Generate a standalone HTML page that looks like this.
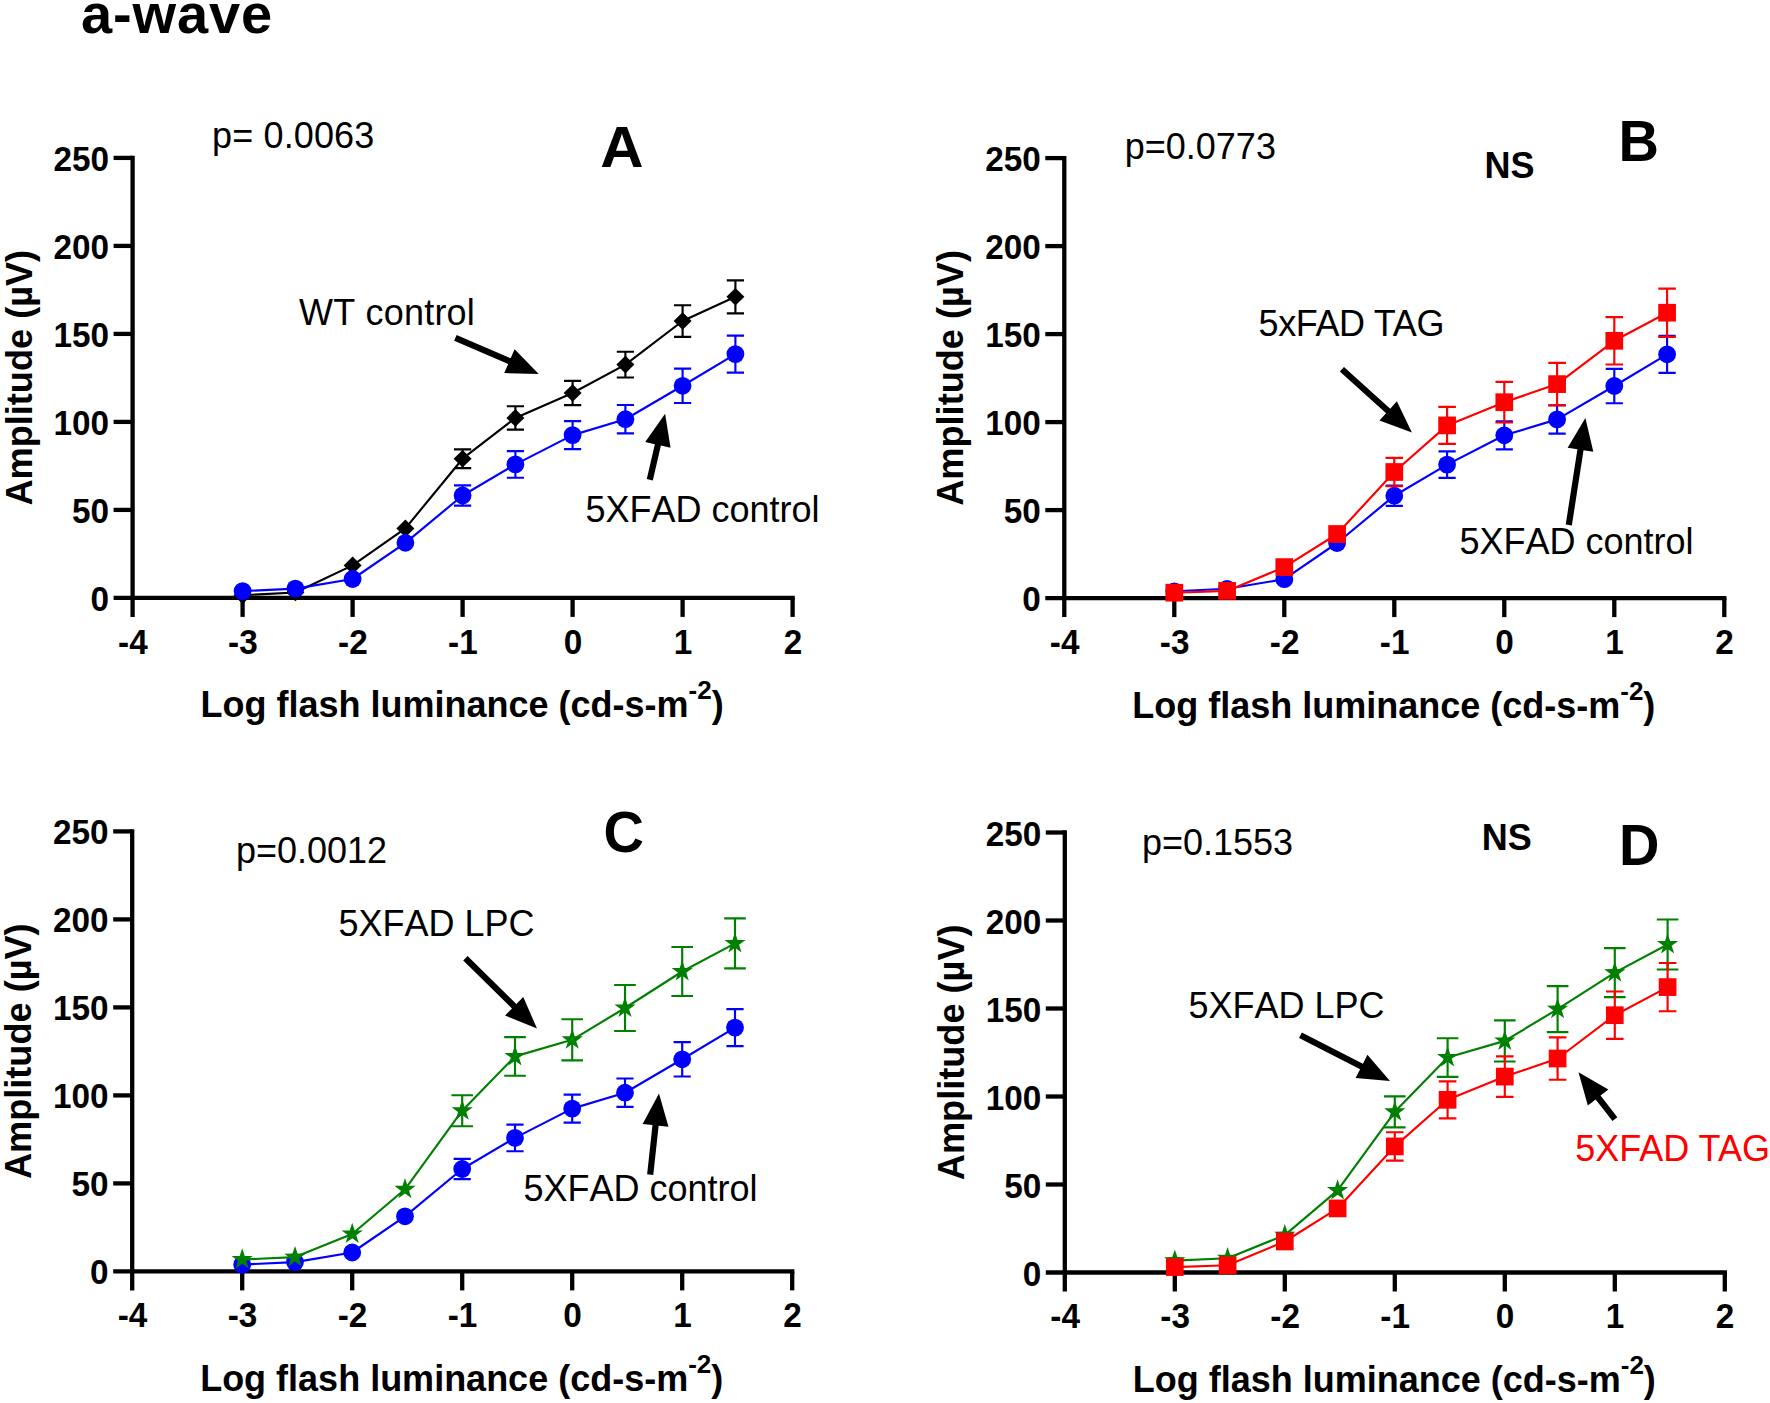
<!DOCTYPE html>
<html lang="en"><head><meta charset="utf-8"><title>a-wave</title>
<style>
html,body{margin:0;padding:0;background:#fff;}
svg{display:block;}
text{font-family:"Liberation Sans",Arial,Helvetica,sans-serif;fill:#000;font-kerning:none;}
.tk{font-size:33.3px;font-weight:bold;}
.al{font-size:36px;font-weight:bold;}
.rg{font-size:36px;}
.kn{font-kerning:normal;}
.ns{font-size:36px;font-weight:bold;}
.pl{font-size:56px;font-weight:bold;}
</style></head><body>
<svg width="1770" height="1403" viewBox="0 0 1770 1403">
<rect width="1770" height="1403" fill="#fff"/>
<text x="81" y="33.2" style="font-size:56px;font-weight:bold;letter-spacing:0.85px">a-wave</text>
<path d="M132.6 155.75V616.90" stroke="#000" stroke-width="4.3" fill="none"/>
<path d="M113.6 597.9H794.75" stroke="#000" stroke-width="4.3" fill="none"/>
<path d="M113.6 509.9H132.6" stroke="#000" stroke-width="4.3"/>
<path d="M113.6 421.9H132.6" stroke="#000" stroke-width="4.3"/>
<path d="M113.6 333.9H132.6" stroke="#000" stroke-width="4.3"/>
<path d="M113.6 245.89999999999998H132.6" stroke="#000" stroke-width="4.3"/>
<path d="M113.6 157.89999999999998H132.6" stroke="#000" stroke-width="4.3"/>
<path d="M242.6 597.9V616.9" stroke="#000" stroke-width="4.3"/>
<path d="M352.6 597.9V616.9" stroke="#000" stroke-width="4.3"/>
<path d="M462.6 597.9V616.9" stroke="#000" stroke-width="4.3"/>
<path d="M572.6 597.9V616.9" stroke="#000" stroke-width="4.3"/>
<path d="M682.6 597.9V616.9" stroke="#000" stroke-width="4.3"/>
<path d="M792.6 597.9V616.9" stroke="#000" stroke-width="4.3"/>
<text class="tk" transform="translate(109.0,610.9) scale(1,1.04)" text-anchor="end">0</text>
<text class="tk" transform="translate(109.0,522.9) scale(1,1.04)" text-anchor="end">50</text>
<text class="tk" transform="translate(109.0,434.9) scale(1,1.04)" text-anchor="end">100</text>
<text class="tk" transform="translate(109.0,346.9) scale(1,1.04)" text-anchor="end">150</text>
<text class="tk" transform="translate(109.0,258.9) scale(1,1.04)" text-anchor="end">200</text>
<text class="tk" transform="translate(109.0,170.9) scale(1,1.04)" text-anchor="end">250</text>
<text class="tk" transform="translate(132.9,653.6) scale(1,1.04)" text-anchor="middle">-4</text>
<text class="tk" transform="translate(242.9,653.6) scale(1,1.04)" text-anchor="middle">-3</text>
<text class="tk" transform="translate(352.9,653.6) scale(1,1.04)" text-anchor="middle">-2</text>
<text class="tk" transform="translate(462.9,653.6) scale(1,1.04)" text-anchor="middle">-1</text>
<text class="tk" transform="translate(572.9,653.6) scale(1,1.04)" text-anchor="middle">0</text>
<text class="tk" transform="translate(682.9,653.6) scale(1,1.04)" text-anchor="middle">1</text>
<text class="tk" transform="translate(792.9,653.6) scale(1,1.04)" text-anchor="middle">2</text>
<text class="al" transform="translate(462.1,717.3) scale(1,1.02)" text-anchor="middle">Log flash luminance (cd-s-m<tspan style="font-size:26px;font-weight:bold" dy="-17.5">-2</tspan><tspan dy="17.5">)</tspan></text>
<text class="al" transform="translate(31.5,377.7) rotate(-90) scale(1.004,1.03)" text-anchor="middle">Amplitude (µV)</text>
<path d="M462.60 449.30V468.10M454.00 449.30H471.20M454.00 468.10H471.20" stroke="#000" stroke-width="2.15" fill="none"/>
<path d="M515.40 406.20V429.60M506.80 406.20H524.00M506.80 429.60H524.00" stroke="#000" stroke-width="2.15" fill="none"/>
<path d="M572.60 380.90V405.10M564.00 380.90H581.20M564.00 405.10H581.20" stroke="#000" stroke-width="2.15" fill="none"/>
<path d="M625.40 351.70V377.50M616.80 351.70H634.00M616.80 377.50H634.00" stroke="#000" stroke-width="2.15" fill="none"/>
<path d="M682.60 305.20V336.80M674.00 305.20H691.20M674.00 336.80H691.20" stroke="#000" stroke-width="2.15" fill="none"/>
<path d="M735.40 280.30V313.30M726.80 280.30H744.00M726.80 313.30H744.00" stroke="#000" stroke-width="2.15" fill="none"/>
<polyline points="242.60,595.20 295.40,592.50 352.60,565.40 405.40,528.40 462.60,458.70 515.40,417.90 572.60,393.00 625.40,364.60 682.60,321.00 735.40,296.80" fill="none" stroke="#000" stroke-width="2.15" stroke-linejoin="round"/>
<polygon points="242.60,586.40 251.60,595.20 242.60,604.00 233.60,595.20" fill="#000"/>
<polygon points="295.40,583.70 304.40,592.50 295.40,601.30 286.40,592.50" fill="#000"/>
<polygon points="352.60,556.60 361.60,565.40 352.60,574.20 343.60,565.40" fill="#000"/>
<polygon points="405.40,519.60 414.40,528.40 405.40,537.20 396.40,528.40" fill="#000"/>
<polygon points="462.60,449.90 471.60,458.70 462.60,467.50 453.60,458.70" fill="#000"/>
<polygon points="515.40,409.10 524.40,417.90 515.40,426.70 506.40,417.90" fill="#000"/>
<polygon points="572.60,384.20 581.60,393.00 572.60,401.80 563.60,393.00" fill="#000"/>
<polygon points="625.40,355.80 634.40,364.60 625.40,373.40 616.40,364.60" fill="#000"/>
<polygon points="682.60,312.20 691.60,321.00 682.60,329.80 673.60,321.00" fill="#000"/>
<polygon points="735.40,288.00 744.40,296.80 735.40,305.60 726.40,296.80" fill="#000"/>
<path d="M462.60 485.40V505.60M454.00 485.40H471.20M454.00 505.60H471.20" stroke="#0000ff" stroke-width="2.15" fill="none"/>
<path d="M515.40 451.10V477.70M506.80 451.10H524.00M506.80 477.70H524.00" stroke="#0000ff" stroke-width="2.15" fill="none"/>
<path d="M572.60 421.10V449.10M564.00 421.10H581.20M564.00 449.10H581.20" stroke="#0000ff" stroke-width="2.15" fill="none"/>
<path d="M625.40 405.00V433.40M616.80 405.00H634.00M616.80 433.40H634.00" stroke="#0000ff" stroke-width="2.15" fill="none"/>
<path d="M682.60 368.60V403.00M674.00 368.60H691.20M674.00 403.00H691.20" stroke="#0000ff" stroke-width="2.15" fill="none"/>
<path d="M735.40 335.60V372.60M726.80 335.60H744.00M726.80 372.60H744.00" stroke="#0000ff" stroke-width="2.15" fill="none"/>
<polyline points="242.60,591.10 295.40,588.60 352.60,579.00 405.40,542.80 462.60,495.50 515.40,464.40 572.60,435.10 625.40,419.20 682.60,385.80 735.40,354.10" fill="none" stroke="#0000ff" stroke-width="2.15" stroke-linejoin="round"/>
<circle cx="242.60" cy="591.10" r="8.9" fill="#0000ff"/>
<circle cx="295.40" cy="588.60" r="8.9" fill="#0000ff"/>
<circle cx="352.60" cy="579.00" r="8.9" fill="#0000ff"/>
<circle cx="405.40" cy="542.80" r="8.9" fill="#0000ff"/>
<circle cx="462.60" cy="495.50" r="8.9" fill="#0000ff"/>
<circle cx="515.40" cy="464.40" r="8.9" fill="#0000ff"/>
<circle cx="572.60" cy="435.10" r="8.9" fill="#0000ff"/>
<circle cx="625.40" cy="419.20" r="8.9" fill="#0000ff"/>
<circle cx="682.60" cy="385.80" r="8.9" fill="#0000ff"/>
<circle cx="735.40" cy="354.10" r="8.9" fill="#0000ff"/>
<text class="rg" transform="translate(212,148.3) scale(1,1.03)" letter-spacing="0.15">p= 0.0063</text>
<text class="pl" transform="translate(622,167.1) scale(1.0715,1.04)" text-anchor="middle">A</text>
<text class="rg" x="299" y="325.1" letter-spacing="0.2">WT control</text>
<text class="rg" x="585.5" y="521.9">5XFAD control</text>
<polygon points="454.17,340.64 508.20,364.03 504.27,373.12 538.80,373.90 514.60,349.26 510.66,358.34 456.63,334.96" fill="#000"/>
<polygon points="652.82,480.50 660.90,445.57 670.55,447.81 665.10,413.70 645.22,441.94 654.86,444.18 646.78,479.10" fill="#000"/>
<path d="M1064.3 155.95V617.10" stroke="#000" stroke-width="4.3" fill="none"/>
<path d="M1045.3 598.1H1726.45" stroke="#000" stroke-width="4.3" fill="none"/>
<path d="M1045.3 510.1H1064.3" stroke="#000" stroke-width="4.3"/>
<path d="M1045.3 422.1H1064.3" stroke="#000" stroke-width="4.3"/>
<path d="M1045.3 334.1H1064.3" stroke="#000" stroke-width="4.3"/>
<path d="M1045.3 246.10000000000002H1064.3" stroke="#000" stroke-width="4.3"/>
<path d="M1045.3 158.10000000000002H1064.3" stroke="#000" stroke-width="4.3"/>
<path d="M1174.3 598.1V617.1" stroke="#000" stroke-width="4.3"/>
<path d="M1284.3 598.1V617.1" stroke="#000" stroke-width="4.3"/>
<path d="M1394.3 598.1V617.1" stroke="#000" stroke-width="4.3"/>
<path d="M1504.3 598.1V617.1" stroke="#000" stroke-width="4.3"/>
<path d="M1614.3 598.1V617.1" stroke="#000" stroke-width="4.3"/>
<path d="M1724.3 598.1V617.1" stroke="#000" stroke-width="4.3"/>
<text class="tk" transform="translate(1040.7,611.1) scale(1,1.04)" text-anchor="end">0</text>
<text class="tk" transform="translate(1040.7,523.1) scale(1,1.04)" text-anchor="end">50</text>
<text class="tk" transform="translate(1040.7,435.1) scale(1,1.04)" text-anchor="end">100</text>
<text class="tk" transform="translate(1040.7,347.1) scale(1,1.04)" text-anchor="end">150</text>
<text class="tk" transform="translate(1040.7,259.1) scale(1,1.04)" text-anchor="end">200</text>
<text class="tk" transform="translate(1040.7,171.1) scale(1,1.04)" text-anchor="end">250</text>
<text class="tk" transform="translate(1064.6,653.8) scale(1,1.04)" text-anchor="middle">-4</text>
<text class="tk" transform="translate(1174.6,653.8) scale(1,1.04)" text-anchor="middle">-3</text>
<text class="tk" transform="translate(1284.6,653.8) scale(1,1.04)" text-anchor="middle">-2</text>
<text class="tk" transform="translate(1394.6,653.8) scale(1,1.04)" text-anchor="middle">-1</text>
<text class="tk" transform="translate(1504.6,653.8) scale(1,1.04)" text-anchor="middle">0</text>
<text class="tk" transform="translate(1614.6,653.8) scale(1,1.04)" text-anchor="middle">1</text>
<text class="tk" transform="translate(1724.6,653.8) scale(1,1.04)" text-anchor="middle">2</text>
<text class="al" transform="translate(1393.8,717.5) scale(1,1.02)" text-anchor="middle">Log flash luminance (cd-s-m<tspan style="font-size:26px;font-weight:bold" dy="-17.5">-2</tspan><tspan dy="17.5">)</tspan></text>
<text class="al" transform="translate(963.2,377.9) rotate(-90) scale(1.004,1.03)" text-anchor="middle">Amplitude (µV)</text>
<path d="M1394.30 485.60V505.80M1385.70 485.60H1402.90M1385.70 505.80H1402.90" stroke="#0000ff" stroke-width="2.15" fill="none"/>
<path d="M1447.10 451.30V477.90M1438.50 451.30H1455.70M1438.50 477.90H1455.70" stroke="#0000ff" stroke-width="2.15" fill="none"/>
<path d="M1504.30 421.30V449.30M1495.70 421.30H1512.90M1495.70 449.30H1512.90" stroke="#0000ff" stroke-width="2.15" fill="none"/>
<path d="M1557.10 405.20V433.60M1548.50 405.20H1565.70M1548.50 433.60H1565.70" stroke="#0000ff" stroke-width="2.15" fill="none"/>
<path d="M1614.30 368.80V403.20M1605.70 368.80H1622.90M1605.70 403.20H1622.90" stroke="#0000ff" stroke-width="2.15" fill="none"/>
<path d="M1667.10 335.80V372.80M1658.50 335.80H1675.70M1658.50 372.80H1675.70" stroke="#0000ff" stroke-width="2.15" fill="none"/>
<polyline points="1174.30,591.30 1227.10,588.80 1284.30,579.20 1337.10,543.00 1394.30,495.70 1447.10,464.60 1504.30,435.30 1557.10,419.40 1614.30,386.00 1667.10,354.30" fill="none" stroke="#0000ff" stroke-width="2.15" stroke-linejoin="round"/>
<circle cx="1174.30" cy="591.30" r="8.9" fill="#0000ff"/>
<circle cx="1227.10" cy="588.80" r="8.9" fill="#0000ff"/>
<circle cx="1284.30" cy="579.20" r="8.9" fill="#0000ff"/>
<circle cx="1337.10" cy="543.00" r="8.9" fill="#0000ff"/>
<circle cx="1394.30" cy="495.70" r="8.9" fill="#0000ff"/>
<circle cx="1447.10" cy="464.60" r="8.9" fill="#0000ff"/>
<circle cx="1504.30" cy="435.30" r="8.9" fill="#0000ff"/>
<circle cx="1557.10" cy="419.40" r="8.9" fill="#0000ff"/>
<circle cx="1614.30" cy="386.00" r="8.9" fill="#0000ff"/>
<circle cx="1667.10" cy="354.30" r="8.9" fill="#0000ff"/>
<path d="M1394.30 457.80V486.20M1385.50 457.80H1403.10M1385.50 486.20H1403.10" stroke="#ff0000" stroke-width="2.15" fill="none"/>
<path d="M1447.10 406.90V443.90M1438.30 406.90H1455.90M1438.30 443.90H1455.90" stroke="#ff0000" stroke-width="2.15" fill="none"/>
<path d="M1504.30 381.90V422.50M1495.50 381.90H1513.10M1495.50 422.50H1513.10" stroke="#ff0000" stroke-width="2.15" fill="none"/>
<path d="M1557.10 362.90V405.30M1548.30 362.90H1565.90M1548.30 405.30H1565.90" stroke="#ff0000" stroke-width="2.15" fill="none"/>
<path d="M1614.30 317.10V364.50M1605.50 317.10H1623.10M1605.50 364.50H1623.10" stroke="#ff0000" stroke-width="2.15" fill="none"/>
<path d="M1667.10 288.60V336.80M1658.30 288.60H1675.90M1658.30 336.80H1675.90" stroke="#ff0000" stroke-width="2.15" fill="none"/>
<polyline points="1174.30,592.70 1227.10,590.90 1284.30,567.10 1337.10,534.00 1394.30,472.00 1447.10,425.40 1504.30,402.20 1557.10,384.10 1614.30,340.80 1667.10,312.70" fill="none" stroke="#ff0000" stroke-width="2.15" stroke-linejoin="round"/>
<rect x="1165.45" y="583.85" width="17.7" height="17.7" fill="#ff0000"/>
<rect x="1218.25" y="582.05" width="17.7" height="17.7" fill="#ff0000"/>
<rect x="1275.45" y="558.25" width="17.7" height="17.7" fill="#ff0000"/>
<rect x="1328.25" y="525.15" width="17.7" height="17.7" fill="#ff0000"/>
<rect x="1385.45" y="463.15" width="17.7" height="17.7" fill="#ff0000"/>
<rect x="1438.25" y="416.55" width="17.7" height="17.7" fill="#ff0000"/>
<rect x="1495.45" y="393.35" width="17.7" height="17.7" fill="#ff0000"/>
<rect x="1548.25" y="375.25" width="17.7" height="17.7" fill="#ff0000"/>
<rect x="1605.45" y="331.95" width="17.7" height="17.7" fill="#ff0000"/>
<rect x="1658.25" y="303.85" width="17.7" height="17.7" fill="#ff0000"/>
<text class="rg" transform="translate(1124.8,159.3) scale(1,1.03)">p=0.0773</text>
<text class="ns" transform="translate(1484.5,178) scale(1,1.04)">NS</text>
<text class="pl" transform="translate(1618.5,160.8) scale(1,1.04)">B</text>
<text class="rg kn" transform="translate(1258.5,336.1) scale(1,1.04)" letter-spacing="-0.35">5xFAD TAG</text>
<text class="rg" x="1459.5" y="553.7">5XFAD control</text>
<polygon points="1339.82,371.50 1386.07,413.26 1379.44,420.60 1411.90,432.40 1396.86,401.31 1390.23,408.65 1343.98,366.90" fill="#000"/>
<polygon points="1571.86,525.38 1583.55,450.20 1593.33,451.72 1585.40,418.10 1567.64,447.72 1577.42,449.24 1565.74,524.42" fill="#000"/>
<path d="M132.2 829.25V1290.40" stroke="#000" stroke-width="4.3" fill="none"/>
<path d="M113.19999999999999 1271.4H794.35" stroke="#000" stroke-width="4.3" fill="none"/>
<path d="M113.19999999999999 1183.4H132.2" stroke="#000" stroke-width="4.3"/>
<path d="M113.19999999999999 1095.4H132.2" stroke="#000" stroke-width="4.3"/>
<path d="M113.19999999999999 1007.4000000000001H132.2" stroke="#000" stroke-width="4.3"/>
<path d="M113.19999999999999 919.4000000000001H132.2" stroke="#000" stroke-width="4.3"/>
<path d="M113.19999999999999 831.4000000000001H132.2" stroke="#000" stroke-width="4.3"/>
<path d="M242.2 1271.4V1290.4" stroke="#000" stroke-width="4.3"/>
<path d="M352.2 1271.4V1290.4" stroke="#000" stroke-width="4.3"/>
<path d="M462.2 1271.4V1290.4" stroke="#000" stroke-width="4.3"/>
<path d="M572.2 1271.4V1290.4" stroke="#000" stroke-width="4.3"/>
<path d="M682.2 1271.4V1290.4" stroke="#000" stroke-width="4.3"/>
<path d="M792.2 1271.4V1290.4" stroke="#000" stroke-width="4.3"/>
<text class="tk" transform="translate(108.6,1284.4) scale(1,1.04)" text-anchor="end">0</text>
<text class="tk" transform="translate(108.6,1196.4) scale(1,1.04)" text-anchor="end">50</text>
<text class="tk" transform="translate(108.6,1108.4) scale(1,1.04)" text-anchor="end">100</text>
<text class="tk" transform="translate(108.6,1020.4) scale(1,1.04)" text-anchor="end">150</text>
<text class="tk" transform="translate(108.6,932.4) scale(1,1.04)" text-anchor="end">200</text>
<text class="tk" transform="translate(108.6,844.4) scale(1,1.04)" text-anchor="end">250</text>
<text class="tk" transform="translate(132.5,1327.1) scale(1,1.04)" text-anchor="middle">-4</text>
<text class="tk" transform="translate(242.5,1327.1) scale(1,1.04)" text-anchor="middle">-3</text>
<text class="tk" transform="translate(352.5,1327.1) scale(1,1.04)" text-anchor="middle">-2</text>
<text class="tk" transform="translate(462.5,1327.1) scale(1,1.04)" text-anchor="middle">-1</text>
<text class="tk" transform="translate(572.5,1327.1) scale(1,1.04)" text-anchor="middle">0</text>
<text class="tk" transform="translate(682.5,1327.1) scale(1,1.04)" text-anchor="middle">1</text>
<text class="tk" transform="translate(792.5,1327.1) scale(1,1.04)" text-anchor="middle">2</text>
<text class="al" transform="translate(461.7,1390.8) scale(1,1.02)" text-anchor="middle">Log flash luminance (cd-s-m<tspan style="font-size:26px;font-weight:bold" dy="-17.5">-2</tspan><tspan dy="17.5">)</tspan></text>
<text class="al" transform="translate(31.1,1051.2) rotate(-90) scale(1.004,1.03)" text-anchor="middle">Amplitude (µV)</text>
<path d="M462.20 1158.90V1179.10M453.60 1158.90H470.80M453.60 1179.10H470.80" stroke="#0000ff" stroke-width="2.15" fill="none"/>
<path d="M515.00 1124.60V1151.20M506.40 1124.60H523.60M506.40 1151.20H523.60" stroke="#0000ff" stroke-width="2.15" fill="none"/>
<path d="M572.20 1094.60V1122.60M563.60 1094.60H580.80M563.60 1122.60H580.80" stroke="#0000ff" stroke-width="2.15" fill="none"/>
<path d="M625.00 1078.50V1106.90M616.40 1078.50H633.60M616.40 1106.90H633.60" stroke="#0000ff" stroke-width="2.15" fill="none"/>
<path d="M682.20 1042.10V1076.50M673.60 1042.10H690.80M673.60 1076.50H690.80" stroke="#0000ff" stroke-width="2.15" fill="none"/>
<path d="M735.00 1009.10V1046.10M726.40 1009.10H743.60M726.40 1046.10H743.60" stroke="#0000ff" stroke-width="2.15" fill="none"/>
<polyline points="242.20,1264.60 295.00,1262.10 352.20,1252.50 405.00,1216.30 462.20,1169.00 515.00,1137.90 572.20,1108.60 625.00,1092.70 682.20,1059.30 735.00,1027.60" fill="none" stroke="#0000ff" stroke-width="2.15" stroke-linejoin="round"/>
<circle cx="242.20" cy="1264.60" r="8.9" fill="#0000ff"/>
<circle cx="295.00" cy="1262.10" r="8.9" fill="#0000ff"/>
<circle cx="352.20" cy="1252.50" r="8.9" fill="#0000ff"/>
<circle cx="405.00" cy="1216.30" r="8.9" fill="#0000ff"/>
<circle cx="462.20" cy="1169.00" r="8.9" fill="#0000ff"/>
<circle cx="515.00" cy="1137.90" r="8.9" fill="#0000ff"/>
<circle cx="572.20" cy="1108.60" r="8.9" fill="#0000ff"/>
<circle cx="625.00" cy="1092.70" r="8.9" fill="#0000ff"/>
<circle cx="682.20" cy="1059.30" r="8.9" fill="#0000ff"/>
<circle cx="735.00" cy="1027.60" r="8.9" fill="#0000ff"/>
<path d="M462.20 1095.20V1126.20M451.40 1095.20H473.00M451.40 1126.20H473.00" stroke="#008000" stroke-width="2.15" fill="none"/>
<path d="M515.00 1037.10V1075.70M504.20 1037.10H525.80M504.20 1075.70H525.80" stroke="#008000" stroke-width="2.15" fill="none"/>
<path d="M572.20 1019.20V1060.40M561.40 1019.20H583.00M561.40 1060.40H583.00" stroke="#008000" stroke-width="2.15" fill="none"/>
<path d="M625.00 985.00V1031.00M614.20 985.00H635.80M614.20 1031.00H635.80" stroke="#008000" stroke-width="2.15" fill="none"/>
<path d="M682.20 947.00V996.00M671.40 947.00H693.00M671.40 996.00H693.00" stroke="#008000" stroke-width="2.15" fill="none"/>
<path d="M735.00 918.40V968.40M724.20 918.40H745.80M724.20 968.40H745.80" stroke="#008000" stroke-width="2.15" fill="none"/>
<polyline points="242.20,1259.50 295.00,1257.10 352.20,1234.00 405.00,1189.30 462.20,1110.70 515.00,1056.40 572.20,1039.80 625.00,1008.00 682.20,971.50 735.00,943.40" fill="none" stroke="#008000" stroke-width="2.15" stroke-linejoin="round"/>
<polygon points="242.20,1248.30 244.73,1256.02 252.85,1256.04 246.29,1260.83 248.78,1268.56 242.20,1263.80 235.62,1268.56 238.11,1260.83 231.55,1256.04 239.67,1256.02" fill="#008000"/>
<polygon points="295.00,1245.90 297.53,1253.62 305.65,1253.64 299.09,1258.43 301.58,1266.16 295.00,1261.40 288.42,1266.16 290.91,1258.43 284.35,1253.64 292.47,1253.62" fill="#008000"/>
<polygon points="352.20,1222.80 354.73,1230.52 362.85,1230.54 356.29,1235.33 358.78,1243.06 352.20,1238.30 345.62,1243.06 348.11,1235.33 341.55,1230.54 349.67,1230.52" fill="#008000"/>
<polygon points="405.00,1178.10 407.53,1185.82 415.65,1185.84 409.09,1190.63 411.58,1198.36 405.00,1193.60 398.42,1198.36 400.91,1190.63 394.35,1185.84 402.47,1185.82" fill="#008000"/>
<polygon points="462.20,1099.50 464.73,1107.22 472.85,1107.24 466.29,1112.03 468.78,1119.76 462.20,1115.00 455.62,1119.76 458.11,1112.03 451.55,1107.24 459.67,1107.22" fill="#008000"/>
<polygon points="515.00,1045.20 517.53,1052.92 525.65,1052.94 519.09,1057.73 521.58,1065.46 515.00,1060.70 508.42,1065.46 510.91,1057.73 504.35,1052.94 512.47,1052.92" fill="#008000"/>
<polygon points="572.20,1028.60 574.73,1036.32 582.85,1036.34 576.29,1041.13 578.78,1048.86 572.20,1044.10 565.62,1048.86 568.11,1041.13 561.55,1036.34 569.67,1036.32" fill="#008000"/>
<polygon points="625.00,996.80 627.53,1004.52 635.65,1004.54 629.09,1009.33 631.58,1017.06 625.00,1012.30 618.42,1017.06 620.91,1009.33 614.35,1004.54 622.47,1004.52" fill="#008000"/>
<polygon points="682.20,960.30 684.73,968.02 692.85,968.04 686.29,972.83 688.78,980.56 682.20,975.80 675.62,980.56 678.11,972.83 671.55,968.04 679.67,968.02" fill="#008000"/>
<polygon points="735.00,932.20 737.53,939.92 745.65,939.94 739.09,944.73 741.58,952.46 735.00,947.70 728.42,952.46 730.91,944.73 724.35,939.94 732.47,939.92" fill="#008000"/>
<text class="rg" transform="translate(236,863.3) scale(1,1.03)">p=0.0012</text>
<text class="pl" transform="translate(603.5,852.3) scale(1,1.04)">C</text>
<text class="rg" transform="translate(338.5,936.1) scale(1,1.04)">5XFAD LPC</text>
<text class="rg" x="523.5" y="1200.7">5XFAD control</text>
<polygon points="463.23,960.51 511.99,1008.39 505.06,1015.46 537.00,1028.60 523.27,996.90 516.34,1003.97 467.57,956.09" fill="#000"/>
<polygon points="653.28,1175.03 658.63,1125.75 668.47,1126.82 659.00,1093.60 642.62,1124.01 652.47,1125.08 647.12,1174.37" fill="#000"/>
<path d="M1064.8 830.35V1291.50" stroke="#000" stroke-width="4.3" fill="none"/>
<path d="M1045.8 1272.5H1726.95" stroke="#000" stroke-width="4.3" fill="none"/>
<path d="M1045.8 1184.5H1064.8" stroke="#000" stroke-width="4.3"/>
<path d="M1045.8 1096.5H1064.8" stroke="#000" stroke-width="4.3"/>
<path d="M1045.8 1008.5H1064.8" stroke="#000" stroke-width="4.3"/>
<path d="M1045.8 920.5H1064.8" stroke="#000" stroke-width="4.3"/>
<path d="M1045.8 832.5H1064.8" stroke="#000" stroke-width="4.3"/>
<path d="M1174.8 1272.5V1291.5" stroke="#000" stroke-width="4.3"/>
<path d="M1284.8 1272.5V1291.5" stroke="#000" stroke-width="4.3"/>
<path d="M1394.8 1272.5V1291.5" stroke="#000" stroke-width="4.3"/>
<path d="M1504.8 1272.5V1291.5" stroke="#000" stroke-width="4.3"/>
<path d="M1614.8 1272.5V1291.5" stroke="#000" stroke-width="4.3"/>
<path d="M1724.8 1272.5V1291.5" stroke="#000" stroke-width="4.3"/>
<text class="tk" transform="translate(1041.2,1285.5) scale(1,1.04)" text-anchor="end">0</text>
<text class="tk" transform="translate(1041.2,1197.5) scale(1,1.04)" text-anchor="end">50</text>
<text class="tk" transform="translate(1041.2,1109.5) scale(1,1.04)" text-anchor="end">100</text>
<text class="tk" transform="translate(1041.2,1021.5) scale(1,1.04)" text-anchor="end">150</text>
<text class="tk" transform="translate(1041.2,933.5) scale(1,1.04)" text-anchor="end">200</text>
<text class="tk" transform="translate(1041.2,845.5) scale(1,1.04)" text-anchor="end">250</text>
<text class="tk" transform="translate(1065.1,1328.2) scale(1,1.04)" text-anchor="middle">-4</text>
<text class="tk" transform="translate(1175.1,1328.2) scale(1,1.04)" text-anchor="middle">-3</text>
<text class="tk" transform="translate(1285.1,1328.2) scale(1,1.04)" text-anchor="middle">-2</text>
<text class="tk" transform="translate(1395.1,1328.2) scale(1,1.04)" text-anchor="middle">-1</text>
<text class="tk" transform="translate(1505.1,1328.2) scale(1,1.04)" text-anchor="middle">0</text>
<text class="tk" transform="translate(1615.1,1328.2) scale(1,1.04)" text-anchor="middle">1</text>
<text class="tk" transform="translate(1725.1,1328.2) scale(1,1.04)" text-anchor="middle">2</text>
<text class="al" transform="translate(1394.3,1391.9) scale(1,1.02)" text-anchor="middle">Log flash luminance (cd-s-m<tspan style="font-size:26px;font-weight:bold" dy="-17.5">-2</tspan><tspan dy="17.5">)</tspan></text>
<text class="al" transform="translate(963.7,1052.3) rotate(-90) scale(1.004,1.03)" text-anchor="middle">Amplitude (µV)</text>
<path d="M1394.80 1096.30V1127.30M1384.00 1096.30H1405.60M1384.00 1127.30H1405.60" stroke="#008000" stroke-width="2.15" fill="none"/>
<path d="M1447.60 1038.20V1076.80M1436.80 1038.20H1458.40M1436.80 1076.80H1458.40" stroke="#008000" stroke-width="2.15" fill="none"/>
<path d="M1504.80 1020.30V1061.50M1494.00 1020.30H1515.60M1494.00 1061.50H1515.60" stroke="#008000" stroke-width="2.15" fill="none"/>
<path d="M1557.60 986.10V1032.10M1546.80 986.10H1568.40M1546.80 1032.10H1568.40" stroke="#008000" stroke-width="2.15" fill="none"/>
<path d="M1614.80 948.10V997.10M1604.00 948.10H1625.60M1604.00 997.10H1625.60" stroke="#008000" stroke-width="2.15" fill="none"/>
<path d="M1667.60 919.50V969.50M1656.80 919.50H1678.40M1656.80 969.50H1678.40" stroke="#008000" stroke-width="2.15" fill="none"/>
<polyline points="1174.80,1260.60 1227.60,1258.20 1284.80,1235.10 1337.60,1190.40 1394.80,1111.80 1447.60,1057.50 1504.80,1040.90 1557.60,1009.10 1614.80,972.60 1667.60,944.50" fill="none" stroke="#008000" stroke-width="2.15" stroke-linejoin="round"/>
<polygon points="1174.80,1249.40 1177.33,1257.12 1185.45,1257.14 1178.89,1261.93 1181.38,1269.66 1174.80,1264.90 1168.22,1269.66 1170.71,1261.93 1164.15,1257.14 1172.27,1257.12" fill="#008000"/>
<polygon points="1227.60,1247.00 1230.13,1254.72 1238.25,1254.74 1231.69,1259.53 1234.18,1267.26 1227.60,1262.50 1221.02,1267.26 1223.51,1259.53 1216.95,1254.74 1225.07,1254.72" fill="#008000"/>
<polygon points="1284.80,1223.90 1287.33,1231.62 1295.45,1231.64 1288.89,1236.43 1291.38,1244.16 1284.80,1239.40 1278.22,1244.16 1280.71,1236.43 1274.15,1231.64 1282.27,1231.62" fill="#008000"/>
<polygon points="1337.60,1179.20 1340.13,1186.92 1348.25,1186.94 1341.69,1191.73 1344.18,1199.46 1337.60,1194.70 1331.02,1199.46 1333.51,1191.73 1326.95,1186.94 1335.07,1186.92" fill="#008000"/>
<polygon points="1394.80,1100.60 1397.33,1108.32 1405.45,1108.34 1398.89,1113.13 1401.38,1120.86 1394.80,1116.10 1388.22,1120.86 1390.71,1113.13 1384.15,1108.34 1392.27,1108.32" fill="#008000"/>
<polygon points="1447.60,1046.30 1450.13,1054.02 1458.25,1054.04 1451.69,1058.83 1454.18,1066.56 1447.60,1061.80 1441.02,1066.56 1443.51,1058.83 1436.95,1054.04 1445.07,1054.02" fill="#008000"/>
<polygon points="1504.80,1029.70 1507.33,1037.42 1515.45,1037.44 1508.89,1042.23 1511.38,1049.96 1504.80,1045.20 1498.22,1049.96 1500.71,1042.23 1494.15,1037.44 1502.27,1037.42" fill="#008000"/>
<polygon points="1557.60,997.90 1560.13,1005.62 1568.25,1005.64 1561.69,1010.43 1564.18,1018.16 1557.60,1013.40 1551.02,1018.16 1553.51,1010.43 1546.95,1005.64 1555.07,1005.62" fill="#008000"/>
<polygon points="1614.80,961.40 1617.33,969.12 1625.45,969.14 1618.89,973.93 1621.38,981.66 1614.80,976.90 1608.22,981.66 1610.71,973.93 1604.15,969.14 1612.27,969.12" fill="#008000"/>
<polygon points="1667.60,933.30 1670.13,941.02 1678.25,941.04 1671.69,945.83 1674.18,953.56 1667.60,948.80 1661.02,953.56 1663.51,945.83 1656.95,941.04 1665.07,941.02" fill="#008000"/>
<path d="M1394.80 1132.20V1160.60M1386.00 1132.20H1403.60M1386.00 1160.60H1403.60" stroke="#ff0000" stroke-width="2.15" fill="none"/>
<path d="M1447.60 1081.30V1118.30M1438.80 1081.30H1456.40M1438.80 1118.30H1456.40" stroke="#ff0000" stroke-width="2.15" fill="none"/>
<path d="M1504.80 1056.30V1096.90M1496.00 1056.30H1513.60M1496.00 1096.90H1513.60" stroke="#ff0000" stroke-width="2.15" fill="none"/>
<path d="M1557.60 1037.30V1079.70M1548.80 1037.30H1566.40M1548.80 1079.70H1566.40" stroke="#ff0000" stroke-width="2.15" fill="none"/>
<path d="M1614.80 991.50V1038.90M1606.00 991.50H1623.60M1606.00 1038.90H1623.60" stroke="#ff0000" stroke-width="2.15" fill="none"/>
<path d="M1667.60 963.00V1011.20M1658.80 963.00H1676.40M1658.80 1011.20H1676.40" stroke="#ff0000" stroke-width="2.15" fill="none"/>
<polyline points="1174.80,1267.10 1227.60,1265.30 1284.80,1241.50 1337.60,1208.40 1394.80,1146.40 1447.60,1099.80 1504.80,1076.60 1557.60,1058.50 1614.80,1015.20 1667.60,987.10" fill="none" stroke="#ff0000" stroke-width="2.15" stroke-linejoin="round"/>
<rect x="1165.95" y="1258.25" width="17.7" height="17.7" fill="#ff0000"/>
<rect x="1218.75" y="1256.45" width="17.7" height="17.7" fill="#ff0000"/>
<rect x="1275.95" y="1232.65" width="17.7" height="17.7" fill="#ff0000"/>
<rect x="1328.75" y="1199.55" width="17.7" height="17.7" fill="#ff0000"/>
<rect x="1385.95" y="1137.55" width="17.7" height="17.7" fill="#ff0000"/>
<rect x="1438.75" y="1090.95" width="17.7" height="17.7" fill="#ff0000"/>
<rect x="1495.95" y="1067.75" width="17.7" height="17.7" fill="#ff0000"/>
<rect x="1548.75" y="1049.65" width="17.7" height="17.7" fill="#ff0000"/>
<rect x="1605.95" y="1006.35" width="17.7" height="17.7" fill="#ff0000"/>
<rect x="1658.75" y="978.25" width="17.7" height="17.7" fill="#ff0000"/>
<text class="rg" transform="translate(1142,855.4) scale(1,1.03)">p=0.1553</text>
<text class="ns" transform="translate(1481.8,849.5) scale(1,1.04)">NS</text>
<text class="pl" transform="translate(1619,864.5) scale(1,1.04)">D</text>
<text class="rg" transform="translate(1188.5,1017.8) scale(1,1.04)">5XFAD LPC</text>
<text class="rg kn" transform="translate(1575.2,1160.7) scale(1,1.04)" style="fill:#ff0000">5XFAD TAG</text>
<polygon points="1299.09,1038.06 1360.09,1069.21 1355.59,1078.03 1390.00,1081.00 1367.41,1054.87 1362.91,1063.69 1301.91,1032.54" fill="#000"/>
<polygon points="1617.35,1117.30 1600.54,1095.60 1608.37,1089.54 1578.50,1072.20 1587.82,1105.46 1595.64,1099.40 1612.45,1121.10" fill="#000"/>
</svg>
</body></html>
